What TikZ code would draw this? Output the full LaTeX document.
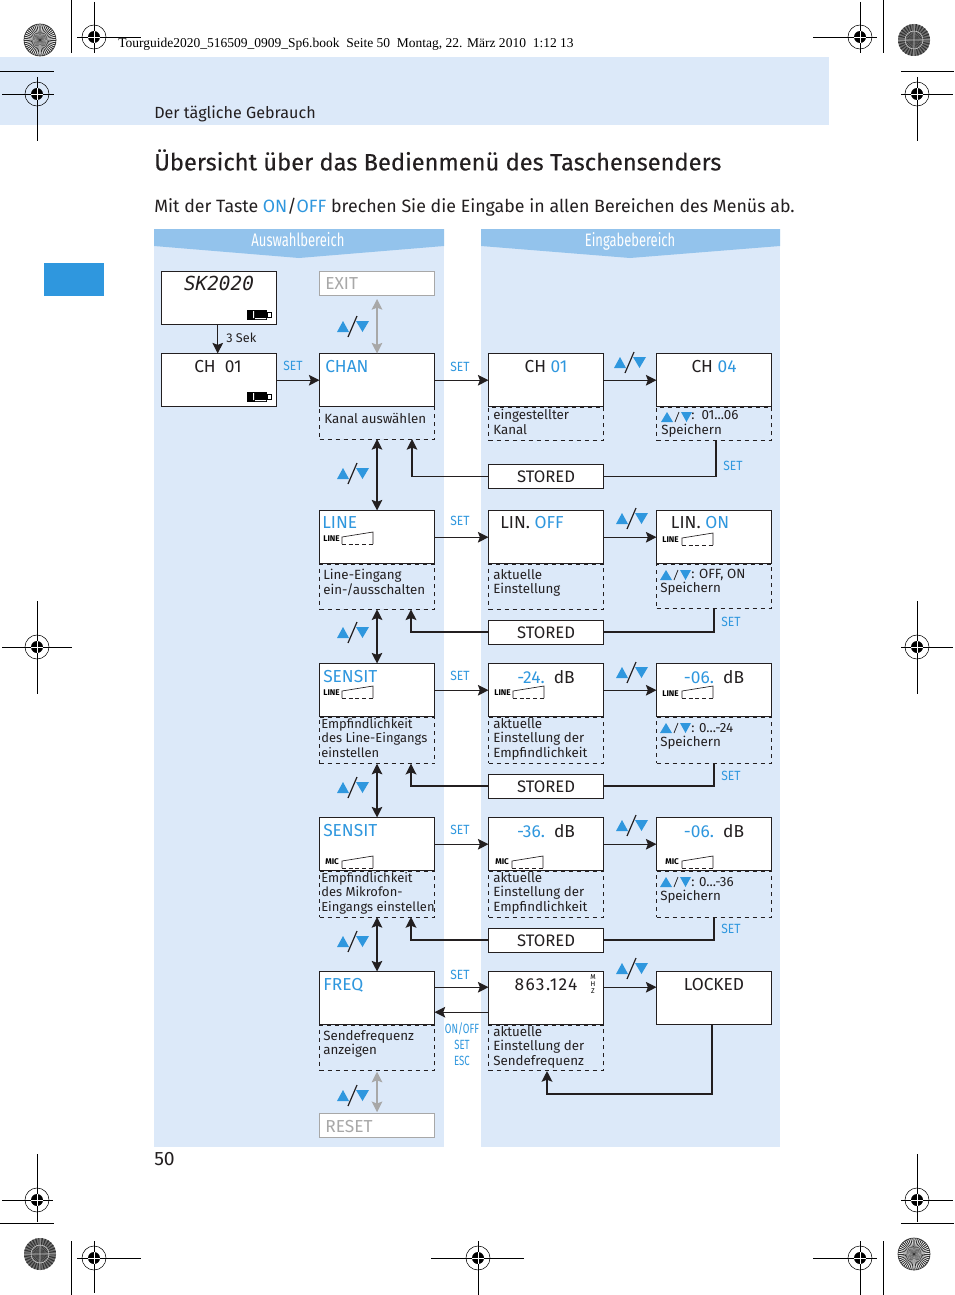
\documentclass[tikz,border=0pt]{standalone}
\usepackage{fontspec}
\setmainfont{Fira Sans}
\newfontfamily\headfont{Liberation Serif}
\newfontfamily\titlefont[FakeBold=0.25]{Fira Sans}
\newfontfamily\narrowfont[FakeStretch=0.72]{Fira Sans}
\newfontfamily\setfont[FakeStretch=0.9]{Fira Sans}
\newfontfamily\lcdfont{DejaVu Sans Mono}
\usetikzlibrary{arrows.meta}
\definecolor{paleblue}{HTML}{DCE9F9}
\definecolor{headblue}{HTML}{93C3EC}
\definecolor{keyblue}{HTML}{2F97DE}
\definecolor{inkblack}{HTML}{231F20}
\definecolor{ghost}{HTML}{A8A8A8}
\tikzset{
	dispbox/.style={draw=inkblack, fill=white, line width=0.65pt, inner sep=0pt, outer sep=0pt, xshift=0.4pt, yshift=-0.4pt, minimum width=86.25pt, minimum height=40pt},
	storedbox/.style={dispbox, minimum height=17.6pt, font=\fontsize{12.5}{14}\selectfont, text=inkblack},
	ghostbox/.style={storedbox, draw=ghost},
	hintbox/.style={draw=inkblack, dashed, line width=0.65pt, inner sep=0pt, outer sep=0pt, xshift=0.4pt, anchor=north west, minimum width=86.25pt},
	hinttext/.style={anchor=north west, inner sep=0pt, align=left, text=inkblack, yshift=-1.5pt, font=\fontsize{10}{10.9}\selectfont},
	sensetext/.style={hinttext, font=\fontsize{9.7}{10.9}\selectfont},
	disptext/.style={inner sep=0pt, text=inkblack, yshift=-0.75pt, font=\fontsize{13}{15}\selectfont},
	keytext/.style={inner sep=0pt, text=keyblue, font=\setfont\fontsize{10}{12}\selectfont},
	escapetext/.style={inner sep=0pt, text=keyblue, font=\narrowfont\fontsize{10}{12}\selectfont},
	iconlabel/.style={inner sep=0pt, anchor=west, font=\bfseries\fontsize{6.2}{7}\selectfont},
	flow/.style={draw=inkblack, line width=1pt, -{Stealth[length=8pt,width=8pt,inset=1.5pt]}},
	flowboth/.style={flow, {Stealth[length=8pt,width=8pt,inset=1.5pt]}-{Stealth[length=8pt,width=8pt,inset=1.5pt]}},
	storeline/.style={draw=inkblack, line width=1.5pt},
}
\newcommand{\updown}[2]{
	\begin{scope}[shift={(#1,#2)}]
		\fill[keyblue] (-16,6) -- (-10,-5) -- (-4,6) -- cycle;
		\fill[keyblue] (3,-5) -- (16,-5) -- (9.5,6) -- cycle;
		\draw[inkblack, line width=0.9pt] (-5,11) -- (4,-10);
	\end{scope}
}
\newcommand{\smallud}[2]{
	\begin{scope}[shift={(#1,#2)}]
		\fill[keyblue] (-6,5) -- (0,-5) -- (6,5) -- cycle;
		\fill[keyblue] (14,-5) -- (25,-5) -- (19.5,5) -- cycle;
		\draw[inkblack, line width=0.6pt] (8,5) -- (12,-5);
	\end{scope}
}
\newcommand{\levelicon}[2]{
	\begin{scope}[shift={(#1,#2)}]
		\draw[inkblack, line width=0.5pt] (0,12) -- (0,5) -- (31,0) -- (31,12);
		\draw[inkblack, line width=0.5pt, densely dashed] (0,12) -- (31,12);
	\end{scope}
}
\newcommand{\battery}[2]{
	\begin{scope}[shift={(#1,#2)}]
		\fill[black] (0,0) rectangle (20,10);
		\draw[black, line width=0.5pt, fill=white] (20,2.5) rectangle (24,7.5);
		\fill[white] (6,1) rectangle (7,8) (8,8) rectangle (19,9);
	\end{scope}
}
\newcommand{\regmark}[6]{
	\draw[black, line width=0.6pt] (#3,#2) -- (#4,#2) (#1,#5) -- (#1,#6);
	\draw[black, line width=0.4pt] (#1,#2) circle (12);
	\fill[black] (#1,#2) circle (6);
	\draw[white, line width=0.6pt] (#1-6,#2) -- (#1+6,#2) (#1,#2-6) -- (#1,#2+6);
}
\newcommand{\sunburst}[2]{
	\fill[white] (#1,#2) circle (16);
	\foreach \ang in {0,8,...,352}
		\fill[black!80] (#1,#2) -- ++(\ang:16) arc (\ang:\ang+4:16) -- cycle;
	\draw[black!80, line width=0.5pt] (#1,#2) circle (16);
}
\newcommand{\darkburst}[2]{
	\fill[black!55] (#1,#2) circle (16);
	\foreach \ang in {0,12,...,348}
		\fill[black!80] (#1,#2) -- ++(\ang:16) arc (\ang:\ang+5:16) -- cycle;
	\draw[black!25, line width=0.5pt] (#1-16,#2) -- (#1+16,#2) (#1,#2-16) -- (#1,#2+16) (#1,#2) circle (9);
}
\begin{document}
\begin{tikzpicture}[x=0.75pt, y=-0.75pt, >=latex]
	\useasboundingbox (0,0) rectangle (954,1295);
	\fill[white] (0,0) rectangle (954,1295);
	\fill[paleblue] (0,57) rectangle (829,125);
	\fill[keyblue] (44,263) rectangle (104,296);

	\fill[paleblue] (154,229) rectangle (444,1147);
	\fill[paleblue] (481,229) rectangle (780,1147);
	\fill[headblue] (154,229) -- (444,229) -- (444,246) -- (299,258) -- (154,246) -- cycle;
	\fill[headblue] (481,229) -- (780,229) -- (780,246) -- (630,258) -- (481,246) -- cycle;

	\sunburst{40}{40}
	\darkburst{914}{40}
	\darkburst{40}{1254}
	\sunburst{914}{1254}
	\regmark{94}{37}{77}{141}{2}{53}
	\regmark{37}{94}{2}{54}{77}{141}
	\regmark{37}{647}{2}{72}{601}{694}
	\regmark{37}{1200}{2}{53}{1154}{1222}
	\regmark{94}{1258}{77}{141}{1241}{1293}
	\regmark{478}{1258}{431}{524}{1241}{1295}
	\regmark{860}{1258}{813}{877}{1241}{1295}
	\regmark{917}{1200}{901}{953}{1154}{1222}
	\regmark{917}{647}{901}{953}{601}{694}
	\regmark{917}{94}{901}{953}{77}{141}
	\regmark{860}{37}{813}{877}{2}{53}
	\draw[black, line width=0.6pt] (71,0) -- (71,53) (883,0) -- (883,53) (71,1241) -- (71,1295) (883,1241) -- (883,1295);
	\draw[black, line width=0.6pt] (0,71) -- (54,71) (901,71) -- (954,71) (0,1223) -- (54,1223) (901,1223) -- (954,1223);

	\node[anchor=base west, inner sep=0pt, font=\headfont\fontsize{10.13}{11}\selectfont] (bookline) at (118,48) {Tourguide2020\_516509\_0909\_Sp6.book\ \ Seite 50\ \ Montag, 22. März 2010\ \ 1:12 13};
	\node[anchor=west, inner sep=0pt, text=inkblack, font=\fontsize{12.1}{15}\selectfont] (section) at (154,114) {Der tägliche Gebrauch};
	\node[anchor=west, inner sep=0pt, text=inkblack, font=\titlefont\fontsize{17.75}{22}\selectfont] (title) at (154,160) {Übersicht über das Bedienmenü des Taschensenders};
	\node[anchor=west, inner sep=0pt, text=inkblack, font=\fontsize{13.35}{17}\selectfont] (intro) at (154,207) {Mit der Taste \textcolor{keyblue}{ON}/\textcolor{keyblue}{OFF} brechen Sie die Eingabe in allen Bereichen des Menüs ab.};
	\node[anchor=west, inner sep=0pt, text=inkblack, font=\fontsize{14.5}{17}\selectfont] (pagenum) at (154,1159) {50};
	\node[anchor=base, text=white, inner sep=0pt, font=\narrowfont\fontsize{13.6}{14}\selectfont] (selecthead) at (298,246) {Auswahlbereich};
	\node[anchor=base, text=white, inner sep=0pt, font=\narrowfont\fontsize{13.5}{14}\selectfont] (inputhead) at (630,246) {Eingabebereich};

	% hint boxes
	\node[hintbox, minimum height=27pt] (chanhint) at (319,403) {};
	\node[hintbox, minimum height=25pt] (ch1hint) at (488,407) {};
	\node[hintbox, minimum height=25pt] (ch4hint) at (656,407) {};
	\node[hintbox, minimum height=34pt] (linehint) at (319,564) {};
	\node[hintbox, minimum height=34pt] (offhint) at (488,564) {};
	\node[hintbox, minimum height=33pt] (onhint) at (656,564) {};
	\node[hintbox, minimum height=35pt] (sens1hint) at (319,717) {};
	\node[hintbox, minimum height=34.5pt] (db1hint) at (488,717) {};
	\node[hintbox, minimum height=34.5pt] (db2hint) at (656,717) {};
	\node[hintbox, minimum height=34.5pt] (sens2hint) at (319,871) {};
	\node[hintbox, minimum height=34.5pt] (db3hint) at (488,871) {};
	\node[hintbox, minimum height=34.5pt] (db4hint) at (656,871) {};
	\node[hintbox, minimum height=34pt] (freqhint) at (319,1025) {};
	\node[hintbox, minimum height=34pt] (mhzhint) at (488,1025) {};

	% display boxes
	\node[dispbox, anchor=north west] (boot) at (161,271) {};
	\node[dispbox, anchor=north west] (home) at (161,353) {};
	\node[ghostbox, anchor=north west] (exit) at (319,271) {};
	\node[dispbox, anchor=north west] (chan) at (319,353) {};
	\node[dispbox, anchor=north west] (ch1) at (488,353) {};
	\node[dispbox, anchor=north west] (ch4) at (656,353) {};
	\node[storedbox, anchor=north west] (stored1) at (488,464) {STORED};
	\node[dispbox, anchor=north west] (line) at (319,510) {};
	\node[dispbox, anchor=north west] (off) at (488,510) {};
	\node[dispbox, anchor=north west] (on) at (656,510) {};
	\node[storedbox, anchor=north west] (stored2) at (488,620) {STORED};
	\node[dispbox, anchor=north west] (sens1) at (319,663) {};
	\node[dispbox, anchor=north west] (db1) at (488,663) {};
	\node[dispbox, anchor=north west] (db2) at (656,663) {};
	\node[storedbox, anchor=north west] (stored3) at (488,774) {STORED};
	\node[dispbox, anchor=north west] (sens2) at (319,817) {};
	\node[dispbox, anchor=north west] (db3) at (488,817) {};
	\node[dispbox, anchor=north west] (db4) at (656,817) {};
	\node[storedbox, anchor=north west] (stored4) at (488,928) {STORED};
	\node[dispbox, anchor=north west] (freq) at (319,971) {};
	\node[dispbox, anchor=north west] (mhz) at (488,971) {};
	\node[dispbox, anchor=north west] (locked) at (656,971) {};
	\node[ghostbox, anchor=north west] (reset) at (319,1113) {};

	% display texts
	\node[inner sep=0pt, text=inkblack, font=\lcdfont\itshape\fontsize{14.5}{15}\selectfont] (bootT) at (219,283) {SK2020};
	\node[disptext] (homeT) at (218,366) {CH\ \ 01};
	\node[disptext, anchor=west, text=ghost] (exitT) at (325,283) {EXIT};
	\node[disptext, anchor=west, text=keyblue] (chanT) at (325,366) {CHAN};
	\node[disptext] (ch1T) at (546,366) {CH \textcolor{keyblue}{01}};
	\node[disptext] (ch4T) at (714,366) {CH \textcolor{keyblue}{04}};
	\node[disptext, anchor=west, text=keyblue] (lineT) at (322,522) {LINE};
	\node[disptext] (offT) at (532,522) {LIN. \textcolor{keyblue}{OFF}};
	\node[disptext] (onT) at (700,522) {LIN. \textcolor{keyblue}{ON}};
	\node[disptext, anchor=west, text=keyblue] (sens1T) at (323,676) {SENSIT};
	\node[disptext] (db1T) at (546,676) {\textcolor{keyblue}{-24.}\ \ dB};
	\node[disptext] (db2T) at (714,676) {\textcolor{keyblue}{-06.}\ \ dB};
	\node[disptext, anchor=west, text=keyblue] (sens2T) at (323,830) {SENSIT};
	\node[disptext] (db3T) at (546,830) {\textcolor{keyblue}{-36.}\ \ dB};
	\node[disptext] (db4T) at (714,830) {\textcolor{keyblue}{-06.}\ \ dB};
	\node[disptext, anchor=west, text=keyblue] (freqT) at (323,984) {FREQ};
	\node[disptext] (mhzT) at (546,984) {\addfontfeature{LetterSpace=8}863.124};
	\node[disptext] (lockedT) at (714,984) {LOCKED};
	\node[disptext, anchor=west, text=ghost] (resetT) at (325,1126) {RESET};
	\node[inner sep=0pt, align=center, font=\fontsize{5.2}{5.2}\selectfont] (mhzU) at (593,984) {M\\H\\Z};

	% hint texts
	\node[hinttext] (chanN) at (324,411) {Kanal auswählen};
	\node[hinttext] (ch1N) at (493,407) {eingestellter\\Kanal};
	\node[hinttext] (ch4N) at (661,422) {Speichern};
	\node[hinttext] (ch4R) at (691,408) {:\ \ 01...06};
	\node[hinttext] (lineN) at (323,567) {Line-Eingang\\ein-/ausschalten};
	\node[hinttext] (offN) at (493,567) {aktuelle\\Einstellung};
	\node[hinttext] (onN) at (660,580) {Speichern};
	\node[hinttext] (onR) at (691,567) {: OFF, ON};
	\node[sensetext] (sens1N) at (321,716) {Empfindlichkeit\\des Line-Eingangs\\einstellen};
	\node[hinttext] (db1N) at (493,716) {aktuelle\\Einstellung der\\Empfindlichkeit};
	\node[hinttext] (db2N) at (660,734) {Speichern};
	\node[hinttext] (db2R) at (691,721) {: 0...-24};
	\node[sensetext] (sens2N) at (321,870) {Empfindlichkeit\\des Mikrofon-\\Eingangs einstellen};
	\node[hinttext] (db3N) at (493,870) {aktuelle\\Einstellung der\\Empfindlichkeit};
	\node[hinttext] (db4N) at (660,888) {Speichern};
	\node[hinttext] (db4R) at (691,875) {: 0...-36};
	\node[hinttext] (freqN) at (323,1028) {Sendefrequenz\\anzeigen};
	\node[hinttext] (mhzN) at (493,1024) {aktuelle\\Einstellung der\\Sendefrequenz};
	\node[hinttext, font=\fontsize{9.5}{11}\selectfont] (bootN) at (226,331) {3 Sek};

	% key labels
	\node[keytext] (setA) at (293,366) {SET};
	\node[keytext] (setB) at (460,367) {SET};
	\node[keytext] (setC) at (733,466) {SET};
	\node[keytext] (setD) at (460,521) {SET};
	\node[keytext] (setE) at (731,622) {SET};
	\node[keytext] (setF) at (460,676) {SET};
	\node[keytext] (setG) at (731,776) {SET};
	\node[keytext] (setH) at (460,830) {SET};
	\node[keytext] (setI) at (731,929) {SET};
	\node[keytext] (setJ) at (460,975) {SET};
	\node[escapetext] (backA) at (462,1029) {ON/OFF};
	\node[escapetext] (backB) at (462,1045) {SET};
	\node[escapetext] (backC) at (462,1061) {ESC};

	% icons
	\battery{247}{310}
	\battery{247}{392}
	\node[iconlabel] (iconA) at (323,539) {LINE}; \levelicon{342}{532}
	\node[iconlabel] (iconB) at (662,540) {LINE}; \levelicon{682}{533}
	\node[iconlabel] (iconC) at (323,693) {LINE}; \levelicon{342}{686}
	\node[iconlabel] (iconD) at (494,693) {LINE}; \levelicon{513}{686}
	\node[iconlabel] (iconE) at (662,694) {LINE}; \levelicon{682}{686}
	\node[iconlabel] (iconF) at (325,862) {MIC}; \levelicon{342}{856}
	\node[iconlabel] (iconG) at (495,862) {MIC}; \levelicon{512}{856}
	\node[iconlabel] (iconH) at (665,862) {MIC}; \levelicon{682}{856}
	\updown{353}{326}
	\updown{353}{473}
	\updown{353}{632}
	\updown{353}{787}
	\updown{353}{941}
	\updown{353}{1095}
	\updown{630}{362}
	\updown{632}{518}
	\updown{632}{672}
	\updown{632}{825}
	\updown{632}{968}
	\smallud{667}{417}
	\smallud{666}{575}
	\smallud{666}{728}
	\smallud{666}{882}

	% connectors
	\draw[flow] ([xshift=-1pt]boot.south) -- ([xshift=-1pt]home.north);
	\draw[flow] (home) -- (chan);
	\draw[flow] (chan) -- (ch1);
	\draw[flow] (ch1) -- (ch4);
	\draw[flow] (line) -- (off);
	\draw[flow] (off) -- (on);
	\draw[flow] (sens1) -- (db1);
	\draw[flow] (db1) -- (db2);
	\draw[flow] (sens2) -- (db3);
	\draw[flow] (db3) -- (db4);
	\draw[flowboth, draw=ghost, color=ghost] ([yshift=-3pt]exit.south) -- (chan.north);
	\draw[flowboth] (chanhint) -- (line);
	\draw[flowboth] (linehint) -- (sens1);
	\draw[flowboth] (sens1hint) -- (sens2);
	\draw[flowboth] (sens2hint) -- (freq);
	\draw[flowboth, draw=ghost, color=ghost] ([yshift=-1pt]freqhint.south) -- ([yshift=1pt]reset.north);
	\coordinate (freqout) at ([yshift=8.25pt]freq.east);
	\coordinate (mhzin) at ([yshift=8.25pt]mhz.west);
	\coordinate (mhzout) at ([yshift=8.25pt]mhz.east);
	\coordinate (lockin) at ([yshift=8.25pt]locked.west);
	\coordinate (freqret) at ([yshift=-10.5pt]freq.east);
	\coordinate (mhzret) at ([yshift=-10.5pt]mhz.west);
	\draw[flow] (freqout) -- (mhzin);
	\draw[flow] (mhzout) -- (lockin);
	\draw[flow] (mhzret) -- (freqret);
	\coordinate (ret1) at (412,476);
	\coordinate (ret2) at (411,632);
	\coordinate (ret3) at (411,786);
	\coordinate (ret4) at (411,940);
	\draw[flow] (stored1.west) -| (ret1 |- chanhint.south);
	\draw[flow, storeline] (stored2.west) -| (ret2 |- linehint.south);
	\draw[flow, storeline] (stored3.west) -| (ret3 |- sens1hint.south);
	\draw[flow, storeline] (stored4.west) -| (ret4 |- sens2hint.south);
	\coordinate (drop1) at (716,441);
	\coordinate (drop2) at (714,608);
	\coordinate (drop3) at (714,763);
	\coordinate (drop4) at (714,917);
	\draw[draw=inkblack, line width=0.8pt] (drop1) |- (stored1.east);
	\draw[storeline] (drop2) |- (stored2.east);
	\draw[storeline] (drop3) |- (stored3.east);
	\draw[storeline] (drop4) |- (stored4.east);
	\coordinate (lockturn) at (712,1094);
	\coordinate (lockend) at (547,1071);
	\draw[flow, storeline] (locked.south -| lockturn) -- (lockturn) -| (lockend);
\end{tikzpicture}
\end{document}
